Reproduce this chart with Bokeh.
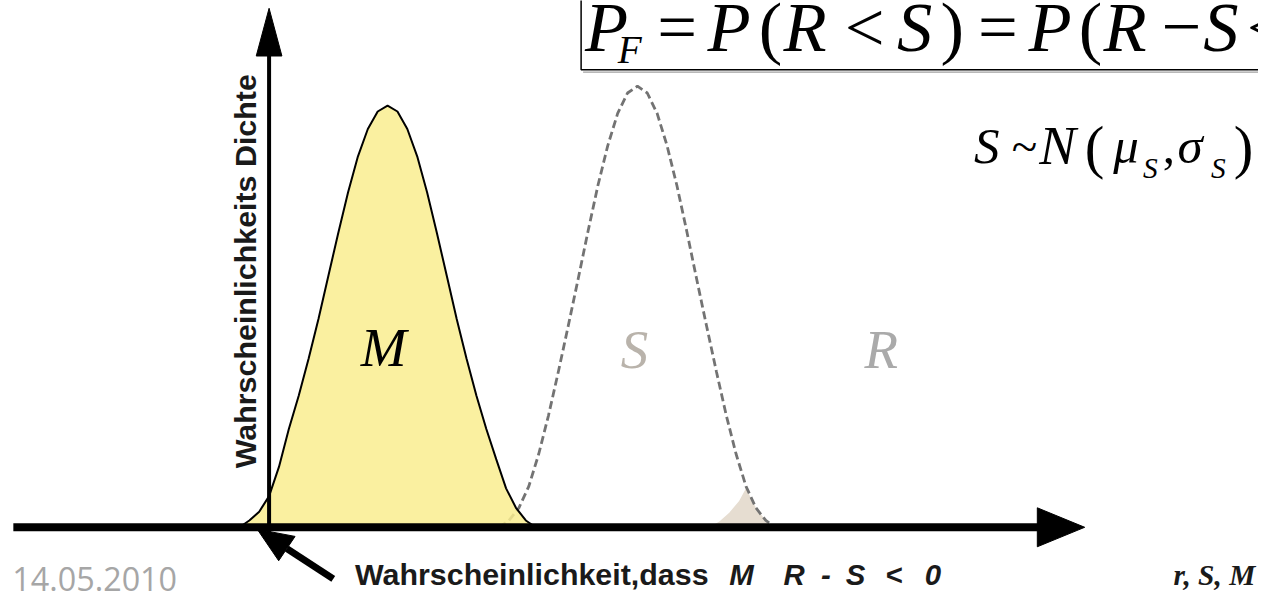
import math
from bokeh.plotting import figure
from bokeh.models import Range1d
from bokeh.embed import file_html
from bokeh.resources import INLINE
from bokeh.core.properties import value

# ---- data (x in units of the r,s,m axis; y = probability density) ----
m_x = [-3, -2, -1, 0, 1, 2, 3, 4, 5, 6, 7, 8, 9, 10, 11, 12,
       13, 14, 15, 16, 17, 18, 19, 20, 21, 22, 23, 24, 25, 26, 27]
m_y = [0, .014, .032, .064, .124, .202, .27, .346, .428, .516, .604, .688, .762, .818, .854, .866,
       .854, .818, .762, .688, .604, .516, .428, .346, .27, .202, .14, .08, .04, .014, 0]

s_x = [23.3, 24.3, 25.3, 26.3, 27.3, 28.3, 29.3, 30.3, 31.3, 32.3, 33.3, 34.3, 35.3, 36.3, 37.3,
       38.3, 39.3, 40.3, 41.3, 42.3, 43.3, 44.3, 45.3, 46.3, 47.3, 48.3, 49.3, 50.3, 51.3]
s_y = [0, .014, .04, .084, .15, .23, .32, .414, .51, .608, .702, .784, .85, .892, .906,
       .892, .85, .784, .702, .608, .51, .414, .32, .23, .15, .084, .04, .014, 0]

# overlap of S with the (invisible) R density
ov_x = [44.6, 45.6, 46.6, 47.6, 48.3, 49.3, 50.3, 51.0]
ov_y = [0, .012, .03, .054, .08, .04, .014, 0]

labels_dist = ["M", "S", "R"]

# ---- layout helpers (reference pixel -> data) ----
def X(px):
    return (px - 272) / 10.0

def Y(py):
    return (541 - py) / 500.0

W, H = 1258, 593
FS = 0.98  # font scale (reference drawn slightly smaller to fit the window)

p = figure(width=W, height=H, x_range=Range1d(X(0), X(1274)), y_range=Range1d(Y(609), Y(0)),
           output_backend="svg", toolbar_location=None, min_border=0,
           x_axis_type=None, y_axis_type=None)
p.grid.visible = False
p.outline_line_color = None
p.background_fill_color = "white"

# overlap area (beige)
p.patch(ov_x, ov_y, fill_color="#E6DDD1", line_color=None)
# S density dashed
p.line(s_x, s_y, line_color="#737373", line_width=2.8, line_dash="8 4")
# M density filled
p.patch(m_x, m_y, fill_color="#F9ED8F", fill_alpha=0.85, line_color="black", line_width=2)

# ---- axes arrows ----
p.line([X(13), X(1052)], [0, 0], line_color="black", line_width=8, line_cap="butt")
p.patch([X(1050), X(1098), X(1050)], [Y(521), Y(541), Y(561)], fill_color="black", line_color="black")
p.line([0, 0], [Y(546), Y(55)], line_color="black", line_width=4, line_cap="butt")
p.patch([X(259), X(272), X(285)], [Y(57), Y(8), Y(57)], fill_color="black", line_color="black")

# diagonal pointer arrow to the origin
tip = (260, 543)
tail = (337, 594)
dx, dy = tip[0] - tail[0], tip[1] - tail[1]
ln = math.hypot(dx, dy)
ux, uy = dx / ln, dy / ln
hl, hw = 36, 15
bx, by = tip[0] - hl * ux, tip[1] - hl * uy
px_, py_ = -uy, ux
p.line([X(tail[0]), X(bx)], [Y(tail[1]), Y(by)], line_color="black", line_width=7)
p.patch([X(tip[0]), X(bx + hw * px_), X(bx - hw * px_)],
        [Y(tip[1]), Y(by + hw * py_), Y(by - hw * py_)], fill_color="black", line_color="black")

# formula box
p.line([X(588), X(588), X(1290)], [Y(-5), Y(71), Y(71)], line_color="black", line_width=1.5)
p.line([X(590), X(1290)], [Y(73.5), Y(73.5)], line_color="#A0A0A0", line_width=1.2)


def txt(px, py, s, size, font="Liberation Serif", style="normal", color="black",
        align="left", base="alpha", angle=0.0):
    sz = size * FS
    if base == "alpha":
        py = py - 0.35 * size
    p.text(x=[X(px)], y=[Y(py)], text=[s], text_font=value(font), text_font_style=style,
           text_font_size=f"{sz:.1f}px", text_color=color, text_align=align,
           text_baseline="middle", angle=angle)

# distribution labels
txt(388, 356, labels_dist[0], 56, style="italic", color="black", align="center", base="middle")
txt(642, 358, labels_dist[1], 56, style="italic", color="#B9B3AB", align="center", base="middle")
txt(892, 358, labels_dist[2], 56, style="italic", color="#AAAAAA", align="center", base="middle")

# main formula
F = 72
parts = [("P", 592, "italic"), ("=", 665, "normal"), ("P", 716, "italic"), ("(", 768, "normal"),
         ("R", 793, "italic"), ("<", 855, "normal"), ("S", 908, "italic"), (")", 952, "normal"),
         ("=", 990, "normal"), ("P", 1041, "italic"), ("(", 1092, "normal"), ("R", 1117, "italic"),
         ("\u2212", 1176, "normal"), ("S", 1218, "italic"), ("<", 1262, "normal")]
for s, xx, st in parts:
    txt(xx, 52, s, F, style=st)
txt(625, 64, "F", 40, style="italic")

# S ~ N(mu_S, sigma_S)
txt(986, 168, "S", 52, style="italic")
txt(1024, 166, "~", 48)
txt(1052, 168, "N", 56, style="italic")
txt(1098, 172, "(", 60)
txt(1127, 168, "\u03bc", 52, style="italic")
txt(1157, 183, "S", 30, style="italic")
txt(1177, 168, ",", 50)
txt(1192, 168, "\u03c3", 52, style="italic")
txt(1226, 183, "S", 30, style="italic")
txt(1249, 172, ")", 60)

# axis labels
txt(248, 278, "Wahrscheinlichkeits Dichte", 31, font="Liberation Sans", style="bold",
    color="#1A1A1A", align="center", base="middle", angle=math.pi / 2)
txt(359, 600, "Wahrscheinlichkeit,dass", 31, font="Liberation Sans", style="bold", color="#1A1A1A")
txt(738, 600, "M", 30, font="Liberation Sans", style="bold italic", color="#1A1A1A")
bottom_parts = [("R", 793), ("-", 831), ("S", 856), ("<", 896), ("0", 936)]
for s, xx in bottom_parts:
    txt(xx, 600, s, 30, font="Liberation Sans", style="bold italic", color="#1A1A1A")
txt(1188, 600, "r, S, M", 30, font="Liberation Serif", style="bold italic", color="#1A1A1A")

# date
txt(12, 606, "14.05.2010", 33, font="Open Sans", color="#A6A6A6")

open("out.html", "w").write(file_html(p, INLINE))
